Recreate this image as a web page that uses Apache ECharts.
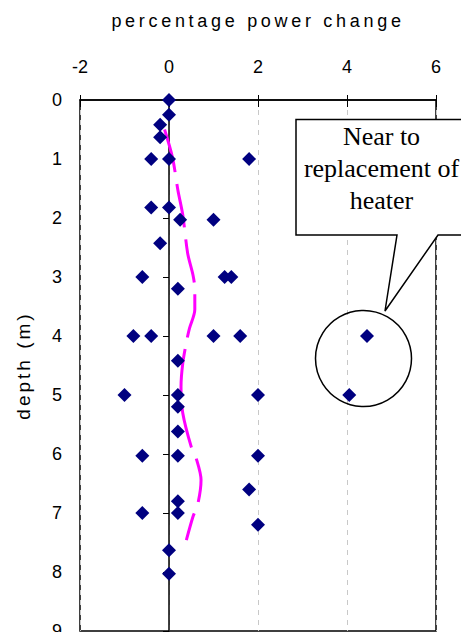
<!DOCTYPE html>
<html>
<head>
<meta charset="utf-8">
<script src="https://cdn.jsdelivr.net/npm/echarts@6/dist/echarts.min.js"></script>
<style>
  html, body { margin: 0; padding: 0; background: #fff; }
  #chart { width: 461px; height: 632px; }
</style>
</head>
<body>
<div id="chart"></div>
<script>
// Scatter points: depth (m) and percentage power change
const pointDepth  = [0, 0.25, 0.42, 0.63, 1, 1, 1, 1.82, 1.82, 2.03, 2.03, 2.43, 3, 3, 3, 3.2, 4, 4, 4, 4, 4, 4.42, 5, 5, 5, 5, 5.2, 5.62, 6.03, 6.03, 6.03, 6.6, 6.8, 7, 7, 7.2, 7.63, 8.03];
const pointChange = [0, 0, -0.2, -0.2, -0.4, 0, 1.8, -0.4, 0, 0.25, 1.0, -0.2, -0.6, 1.25, 1.4, 0.2, -0.8, -0.4, 1.0, 1.6, 4.45, 0.2, -1.0, 0.2, 2.0, 4.05, 0.2, 0.2, -0.6, 0.2, 2.0, 1.8, 0.2, -0.6, 0.2, 2.0, 0, 0];

// Trend (moving average) line
const trendDepth  = [0.5, 0.98, 1.53, 1.95, 2.6, 2.97, 3.2, 3.55, 3.87, 4.07, 4.46, 4.86, 5.31, 5.88, 6.07, 6.44, 6.84, 7.06, 7.46];
const trendChange = [-0.10, 0.08, 0.2, 0.31, 0.42, 0.54, 0.58, 0.58, 0.46, 0.40, 0.31, 0.27, 0.31, 0.5, 0.61, 0.72, 0.65, 0.54, 0.39];

const xMin = -2, xMax = 6, xStep = 2;
const yMin = 0, yMax = 9, yStep = 1;

const xTitle = 'percentage power change';
const yTitle = 'depth (m)';
const noteText = 'Near to\nreplacement of\nheater';

const scatterData = pointDepth.map((d, i) => [pointChange[i], d]);
const trendData = trendDepth.map((d, i) => [trendChange[i], d]);

const chart = echarts.init(document.getElementById('chart'), null, { renderer: 'svg' });
const labelFont = '"Liberation Sans", Arial, sans-serif';

chart.setOption({
  animation: false,
  backgroundColor: '#fff',
  grid: {
    left: 80, top: 100, width: 356, height: 531,
    containLabel: false, outerBoundsMode: 'none',
    show: true, borderColor: '#000', borderWidth: 1.5, backgroundColor: 'transparent'
  },
  xAxis: [{
    type: 'value', position: 'top', min: xMin, max: xMax, interval: xStep,
    name: xTitle, nameLocation: 'middle', nameGap: 70,
    nameTextStyle: { color: '#000', fontSize: 18, fontFamily: labelFont },
    axisLine: { show: true, lineStyle: { color: '#000', width: 1.5 } },
    axisTick: { show: true, inside: false, length: 5, lineStyle: { color: '#000', width: 1 } },
    axisLabel: { color: '#000', fontSize: 18, fontFamily: labelFont, margin: 24 },
    splitLine: { show: true, lineStyle: { color: '#c8c8c8', type: [5, 5], width: 1 } }
  }, {
    type: 'value', position: 'top', min: xMin, max: xMax, interval: xStep,
    axisLine: { show: false },
    axisTick: { show: true, inside: true, length: 7, lineStyle: { color: '#000', width: 1 } },
    axisLabel: { show: false },
    splitLine: { show: false }
  }],
  yAxis: {
    type: 'value', inverse: true, min: yMin, max: yMax, interval: yStep,
    name: yTitle, nameLocation: 'middle', nameGap: 47, nameRotate: 90,
    nameTextStyle: { color: '#000', fontSize: 19, fontFamily: labelFont },
    axisLine: { show: true, lineStyle: { color: '#000', width: 1.5 } },
    axisTick: { show: true, inside: false, length: 6, lineStyle: { color: '#000', width: 1 } },
    axisLabel: { color: '#000', fontSize: 18, fontFamily: labelFont, margin: 18 },
    splitLine: { show: false }
  },
  series: [{
    type: 'line',
    data: trendData,
    smooth: 0.3,
    showSymbol: false,
    symbol: 'none',
    lineStyle: { color: '#ff00ff', width: 3, type: [44, 12] },
    z: 2
  }, {
    type: 'scatter',
    data: scatterData,
    symbol: 'diamond',
    symbolSize: [14, 14],
    itemStyle: { color: '#000080', opacity: 1 },
    z: 3
  }],
  graphic: [{
    type: 'polygon',
    z: 100,
    shape: { points: [[296, 119.5], [475, 119.5], [475, 235], [438, 235], [385, 311], [397, 235], [296, 235]] },
    style: { fill: '#fff', stroke: '#000', lineWidth: 1.5 }
  }, {
    type: 'text',
    z: 101,
    style: {
      text: noteText, x: 381.5, y: 168, align: 'center', verticalAlign: 'middle',
      fontSize: 26, fontFamily: '"Liberation Serif", "Times New Roman", serif', lineHeight: 32, fill: '#000'
    }
  }, {
    type: 'circle',
    z: 100,
    shape: { cx: 363.5, cy: 358.5, r: 48 },
    style: { fill: 'none', stroke: '#000', lineWidth: 1.5 }
  }]
});

function spaceOut() {
  document.querySelectorAll('#chart svg text').forEach(t => {
    const s = (t.textContent || '').trim();
    if (s === xTitle) t.setAttribute('letter-spacing', '3.7');
    else if (s === yTitle) t.setAttribute('letter-spacing', '3.0');
  });
}
chart.on('finished', spaceOut);
spaceOut();
setTimeout(spaceOut, 0);
setTimeout(spaceOut, 100);
</script>
</body>
</html>
